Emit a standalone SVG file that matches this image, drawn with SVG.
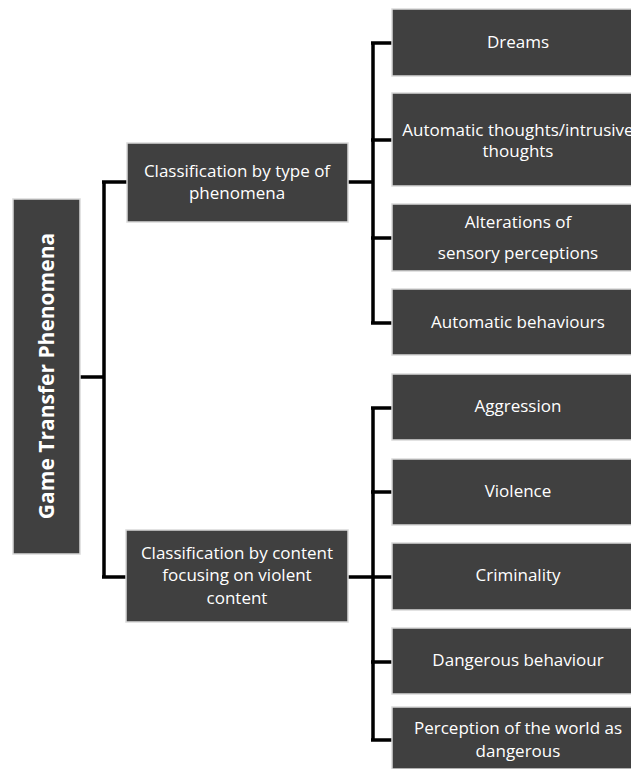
<svg xmlns="http://www.w3.org/2000/svg" width="631" height="769" viewBox="0 0 631 769">
<style>
.box{fill:#404040;stroke:#d9d9d9;stroke-width:1.5}
.t{fill:#ffffff;font-family:"Open Sans","Liberation Sans",sans-serif;font-size:17px;text-anchor:middle}
.root{fill:#ffffff;font-family:"Open Sans","Liberation Sans",sans-serif;font-size:21px;font-weight:bold;text-anchor:middle}
.c{fill:none;stroke:#000000;stroke-width:3.5}
</style>
<rect width="631" height="769" fill="#ffffff"/>
<g id="connectors">
<path class="c" d="M80 377H104M104 182V577M102 182H127M102 577H126"/>
<path class="c" d="M348 182H373M373 43V323M371 43H392M371 140H392M371 238H392M371 323H392"/>
<path class="c" d="M348 577H373M373 408V740M371 408H392M371 492H392M371 577H392M371 662H392M371 740H392"/>
</g>
<g id="root">
<rect class="box" x="13" y="199" width="67" height="355"/>
<text class="root" transform="translate(54 376) rotate(-90)">Game Transfer Phenomena</text>
</g>
<g id="type">
<rect class="box" x="127" y="143" width="221" height="79"/>
<text class="t" x="237" y="177">Classification by type of</text>
<text class="t" x="237" y="199">phenomena</text>
</g>
<g id="content">
<rect class="box" x="126" y="530" width="222" height="92"/>
<text class="t" x="237" y="559">Classification by content</text>
<text class="t" x="237" y="581">focusing on violent</text>
<text class="t" x="237" y="604">content</text>
</g>
<g id="dreams">
<rect class="box" x="392" y="9" width="252" height="67"/>
<text class="t" x="518" y="48">Dreams</text>
</g>
<g id="thoughts">
<rect class="box" x="392" y="93" width="252" height="93"/>
<text class="t" x="518" y="136">Automatic thoughts/intrusive</text>
<text class="t" x="518" y="157">thoughts</text>
</g>
<g id="sensory">
<rect class="box" x="392" y="204" width="252" height="67"/>
<text class="t" x="518" y="228">Alterations of</text>
<text class="t" x="518" y="259">sensory perceptions</text>
</g>
<g id="behaviours">
<rect class="box" x="392" y="289" width="252" height="66"/>
<text class="t" x="518" y="328">Automatic behaviours</text>
</g>
<g id="aggression">
<rect class="box" x="392" y="374" width="252" height="66"/>
<text class="t" x="518" y="412">Aggression</text>
</g>
<g id="violence">
<rect class="box" x="392" y="459" width="252" height="66"/>
<text class="t" x="518" y="497">Violence</text>
</g>
<g id="criminality">
<rect class="box" x="392" y="543" width="252" height="67"/>
<text class="t" x="518" y="581">Criminality</text>
</g>
<g id="dangerous">
<rect class="box" x="392" y="628" width="252" height="66"/>
<text class="t" x="518" y="666">Dangerous behaviour</text>
</g>
<g id="perception">
<rect class="box" x="392" y="707" width="252" height="62"/>
<text class="t" x="518" y="734">Perception of the world as</text>
<text class="t" x="518" y="757">dangerous</text>
</g>
</svg>
